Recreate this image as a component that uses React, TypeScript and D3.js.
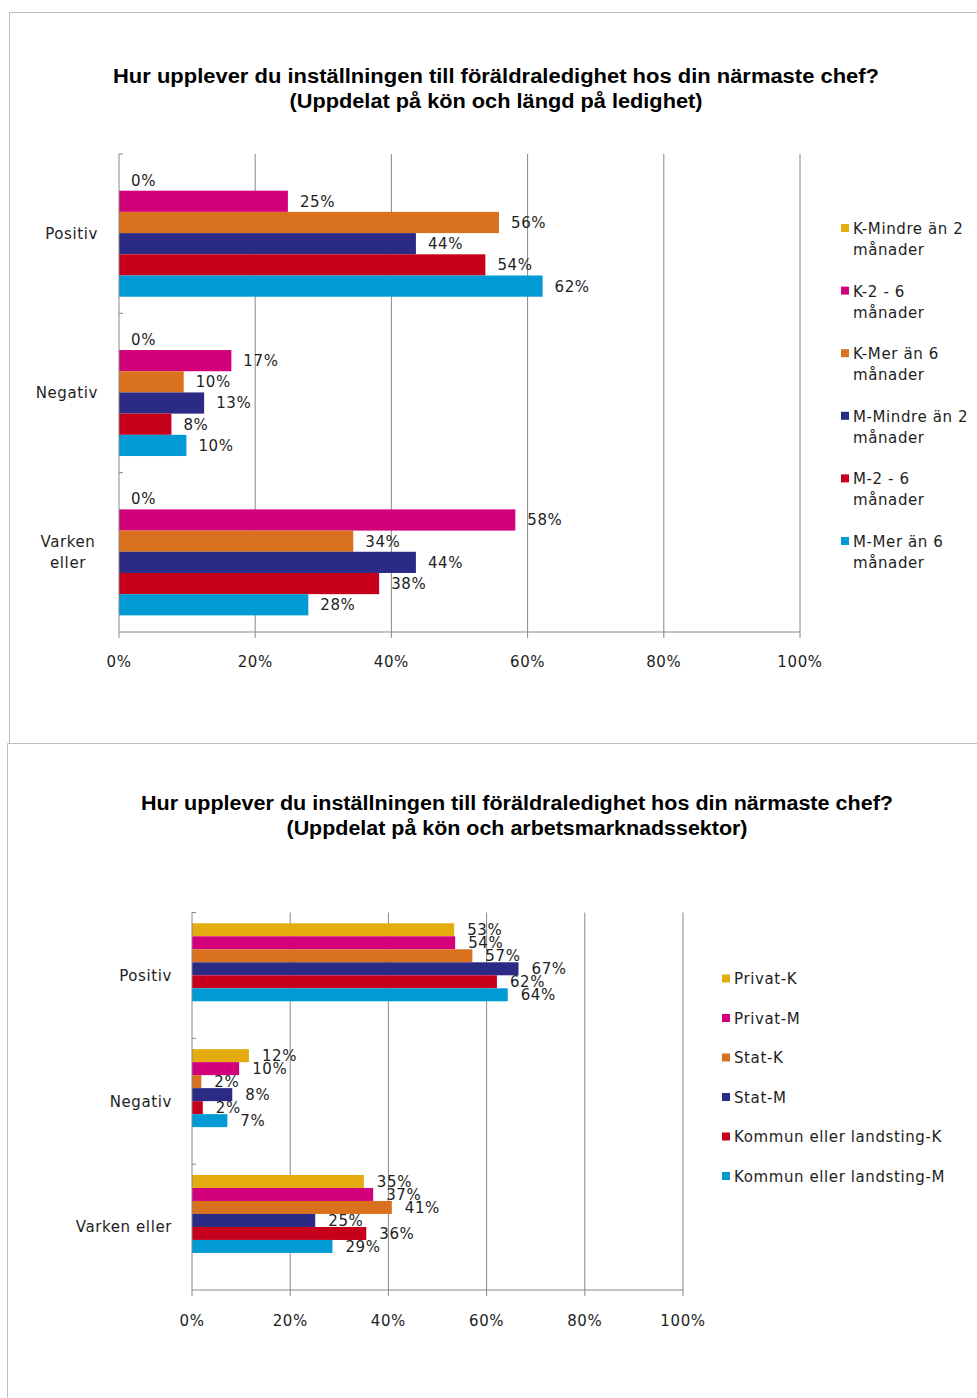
import React from "react";
import * as d3 from "d3";

// ---------- Data: chart 1 (längd på ledighet) ----------
const categoriesTop = ["Positiv", "Negativ", "Varken eller"];
const seriesTopNames = [
  "K-Mindre än 2 månader",
  "K-2 - 6 månader",
  "K-Mer än 6 månader",
  "M-Mindre än 2 månader",
  "M-2 - 6 månader",
  "M-Mer än 6 månader",
];
const topKMindre2 = [0, 0, 0];
const topK2to6 = [24.8, 16.5, 58.2];
const topKMer6 = [55.8, 9.5, 34.4];
const topMMindre2 = [43.6, 12.5, 43.6];
const topM2to6 = [53.8, 7.7, 38.2];
const topMMer6 = [62.2, 9.9, 27.8];
const topSeriesValues = [topKMindre2, topK2to6, topKMer6, topMMindre2, topM2to6, topMMer6];

// ---------- Data: chart 2 (arbetsmarknadssektor) ----------
const categoriesBottom = ["Positiv", "Negativ", "Varken eller"];
const seriesBottomNames = [
  "Privat-K",
  "Privat-M",
  "Stat-K",
  "Stat-M",
  "Kommun eller landsting-K",
  "Kommun eller landsting-M",
];
const botPrivatK = [53.4, 11.6, 35.0];
const botPrivatM = [53.6, 9.6, 36.9];
const botStatK = [57.1, 1.9, 40.7];
const botStatM = [66.5, 8.2, 25.1];
const botKommunK = [62.1, 2.2, 35.5];
const botKommunM = [64.3, 7.2, 28.6];
const bottomSeriesValues = [botPrivatK, botPrivatM, botStatK, botStatM, botKommunK, botKommunM];

const xTicks = [0, 20, 40, 60, 80, 100];
const colors = ["#E4AC0F", "#D3007B", "#DA711E", "#2B2A84", "#C6001B", "#009BD4"];

const titleLine1 = "Hur upplever du inställningen till föräldraledighet hos din närmaste chef?";
const titleTop2 = "(Uppdelat på kön och längd på ledighet)";
const titleBottom2 = "(Uppdelat på kön och arbetsmarknadssektor)";

const FONT = "'DejaVu Sans', Verdana, sans-serif";
const TITLE_FONT = "'Liberation Sans', Arial, sans-serif";
const GRID = "#888888";
const TEXT = "#1e1e1e";
const LS = 0.6;

type ChartProps = {
  categories: string[];
  names: string[];
  values: number[][];
  x0: number;
  x1: number;
  y0: number;
  y1: number;
  barOffset: number;
  barH: number;
  labelOffset: number;
  tickLabelY: number;
  catRight: number;
  catWrapCenter?: number;
  legendX: number;
  legendY: number;
  legendStep: number;
  legendWrap: boolean;
  title: { lines: string[]; cx: number; ys: number[]; widths: number[] };
};

function BarChart(p: ChartProps) {
  const x = d3.scaleLinear().domain([0, 100]).range([p.x0, p.x1]);
  const yBand = d3.scaleBand<string>().domain(p.categories).range([p.y0, p.y1]).padding(0);
  const inner = d3
    .scaleBand<number>()
    .domain(d3.range(p.names.length))
    .range([p.barOffset, p.barOffset + p.barH * p.names.length])
    .padding(0);

  return (
    <g>
      {p.title.lines.map((t, i) => (
        <text
          key={"t" + i}
          x={p.title.cx}
          y={p.title.ys[i]}
          textAnchor="middle"
          fontFamily={TITLE_FONT}
          fontWeight="bold"
          fontSize={20}
          fill="#000"
          textLength={p.title.widths[i]}
          lengthAdjust="spacingAndGlyphs"
        >
          {t}
        </text>
      ))}
      {xTicks.filter((t) => t > 0).map((t) => (
        <line key={"g" + t} x1={x(t)} x2={x(t)} y1={p.y0} y2={p.y1} stroke={GRID} strokeWidth={1} />
      ))}
      {p.values.map((vals, si) =>
        vals.map((v, ci) => {
          const yb = (yBand(p.categories[ci]) as number) + (inner(si) as number);
          return (
            <rect
              key={"b" + si + "-" + ci}
              x={x(0)}
              y={yb}
              width={x(v) - x(0)}
              height={inner.bandwidth()}
              fill={colors[si]}
            />
          );
        })
      )}
      {p.values.map((vals, si) =>
        vals.map((v, ci) => {
          const yb = (yBand(p.categories[ci]) as number) + (inner(si) as number) + inner.bandwidth() / 2;
          return (
            <text
              key={"l" + si + "-" + ci}
              x={x(v) + p.labelOffset}
              y={yb}
              dy="0.36em"
              fontFamily={FONT}
              fontSize={15}
              letterSpacing={LS}
              fill={TEXT}
            >
              {Math.round(v) + "%"}
            </text>
          );
        })
      )}
      <line x1={x(0)} x2={x(0)} y1={p.y0} y2={p.y1} stroke={GRID} strokeWidth={1} />
      <line x1={x(0)} x2={x(100)} y1={p.y1} y2={p.y1} stroke={GRID} strokeWidth={1} />
      {p.categories.map((c, i) => (
        <line
          key={"yt" + i}
          x1={x(0)}
          x2={x(0) + 4}
          y1={yBand(c) as number}
          y2={yBand(c) as number}
          stroke={GRID}
        />
      ))}
      {xTicks.map((t) => (
        <line key={"xt" + t} x1={x(t)} x2={x(t)} y1={p.y1} y2={p.y1 + 6} stroke={GRID} />
      ))}
      {xTicks.map((t) => (
        <text
          key={"xl" + t}
          x={x(t)}
          y={p.tickLabelY}
          dy="0.36em"
          textAnchor="middle"
          fontFamily={FONT}
          fontSize={15}
          letterSpacing={LS}
          fill={TEXT}
        >
          {t + "%"}
        </text>
      ))}
      {p.categories.map((c) => {
        const cy = (yBand(c) as number) + yBand.bandwidth() / 2;
        const words = c.split(" ");
        if (p.catWrapCenter !== undefined && words.length > 1) {
          return (
            <text
              key={"c" + c}
              x={p.catWrapCenter}
              y={cy}
              textAnchor="middle"
              fontFamily={FONT}
              fontSize={15}
              letterSpacing={LS}
              fill={TEXT}
            >
              <tspan x={p.catWrapCenter} dy="-0.36em">
                {words[0]}
              </tspan>
              <tspan x={p.catWrapCenter} dy="1.4em">
                {words.slice(1).join(" ")}
              </tspan>
            </text>
          );
        }
        return (
          <text
            key={"c" + c}
            x={p.catRight}
            y={cy}
            dy="0.36em"
            textAnchor="end"
            fontFamily={FONT}
            fontSize={15}
            letterSpacing={LS}
            fill={TEXT}
          >
            {c}
          </text>
        );
      })}
      {p.names.map((n, i) => {
        const ly = p.legendY + i * p.legendStep;
        let lines = [n];
        if (p.legendWrap) {
          const idx = n.lastIndexOf(" ");
          lines = [n.slice(0, idx), n.slice(idx + 1)];
        }
        return (
          <g key={"lg" + i}>
            <rect x={p.legendX} y={ly - 4.5} width={8} height={8} fill={colors[i]} />
            <text
              x={p.legendX + 12}
              y={ly}
              fontFamily={FONT}
              fontSize={15}
              letterSpacing={LS}
              fill={TEXT}
            >
              {lines.map((l, k) => (
                <tspan key={k} x={p.legendX + 12} dy={k === 0 ? "0.36em" : "1.4em"}>
                  {l}
                </tspan>
              ))}
            </text>
          </g>
        );
      })}
    </g>
  );
}

export default function App() {
  return (
    <svg
      width={977}
      height={1398}
      style={{ position: "absolute", left: 0, top: 0, background: "#fff" }}
    >
      <rect x={0} y={0} width={977} height={1398} fill="#fff" />
      <line x1={9.5} x2={977} y1={12.5} y2={12.5} stroke="#bfbfbf" />
      <line x1={9.5} x2={9.5} y1={12.5} y2={743} stroke="#bfbfbf" />
      <line x1={7.5} x2={977} y1={743.5} y2={743.5} stroke="#bfbfbf" />
      <line x1={7.5} x2={7.5} y1={743.5} y2={1398} stroke="#bfbfbf" />

      <BarChart
        categories={categoriesTop}
        names={seriesTopNames}
        values={topSeriesValues}
        x0={119}
        x1={800}
        y0={154}
        y1={632}
        barOffset={15.5}
        barH={21.2}
        labelOffset={12}
        tickLabelY={662}
        catRight={98}
        catWrapCenter={68}
        legendX={841}
        legendY={228.5}
        legendStep={62.6}
        legendWrap={true}
        title={{ lines: [titleLine1, titleTop2], cx: 496, ys: [83, 108], widths: [766, 413] }}
      />
      <BarChart
        categories={categoriesBottom}
        names={seriesBottomNames}
        values={bottomSeriesValues}
        x0={192}
        x1={683}
        y0={912.5}
        y1={1290}
        barOffset={10.8}
        barH={13.0}
        labelOffset={13}
        tickLabelY={1321}
        catRight={172}
        legendX={722}
        legendY={979}
        legendStep={39.5}
        legendWrap={false}
        title={{ lines: [titleLine1, titleBottom2], cx: 517, ys: [810, 835], widths: [752, 461] }}
      />
    </svg>
  );
}
